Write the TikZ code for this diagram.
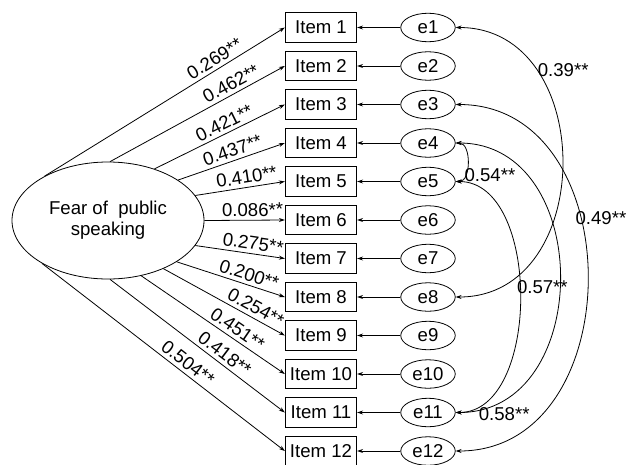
\documentclass[tikz,border=0pt]{standalone}
\usepackage{fontspec}
\setmainfont{Liberation Sans}
\usetikzlibrary{arrows.meta,shapes.geometric}

\begin{document}
\begin{tikzpicture}[x=1pt, y=-1pt, line width=0.8pt,
    font=\fontsize{18.6}{21}\selectfont,
    >={Stealth[length=6pt,width=4pt]},
    item/.style={draw, minimum width=71.5pt, minimum height=29.5pt, inner sep=0pt},
    err/.style={draw, ellipse, minimum width=54.5pt, minimum height=28.5pt, inner sep=0pt},
    coef/.style={above, sloped, inner sep=3.5pt},
    corr/.style={anchor=west, inner sep=0pt}]
  \useasboundingbox (0,0) rectangle (626,464);

  \node[draw, ellipse, minimum width=192pt, minimum height=117pt, align=center]
       (F) at (108,220.5) {Fear of\ \ public\\speaking};

  \foreach \i in {1,...,12} {
    \node[item] (i\i) at (321,{27.5+38.5*(\i-1)}) {Item \i};
    \node[err] (e\i) at (428,{27.5+38.5*(\i-1)}) {e\i};
    \draw[->] (e\i) -- (i\i);
  }

  \foreach \i/\a/\p/\c in {1/145/0.73/0.269, 2/88/0.72/0.462, 3/48/0.57/0.421,
      4/30/0.54/0.437, 5/16/0.59/0.410, 6/0/0.6/0.086, 7/-16/0.63/0.275,
      8/-31/0.64/0.200, 9/-41/0.72/0.254, 10/-59/0.63/0.451,
      11/-88/0.62/0.418, 12/-147/0.575/0.504}
    \draw[->] (F.\a) -- node[coef, pos=\p] {\c**} (i\i.west);

  \draw[<->] (e1.east) to[out=0, in=0, looseness=1.35]
       node[corr, pos=0.25, xshift=2pt] {0.39**} (e8.east);
  \draw[<->] (e3.east) to[out=0, in=0, looseness=1.3]
       node[corr, pos=0.383, xshift=-5pt] {0.49**} (e12.east);
  \draw[<->] (e4.east) to[out=0, in=0, looseness=1.05]
       node[corr, pos=0.8, xshift=1pt, yshift=2pt] {0.54**} (e5.east);
  \draw[<->] (e5.east) to[out=0, in=0, looseness=0.95]
       node[corr, pos=0.47, xshift=-3pt] {0.57**} (e11.east);
  \draw[<->] (e4.east) to[out=0, in=0, looseness=1.32]
       node[corr, pos=0.95, xshift=3pt, yshift=-4pt] {0.58**} (e11.east);
\end{tikzpicture}
\end{document}
